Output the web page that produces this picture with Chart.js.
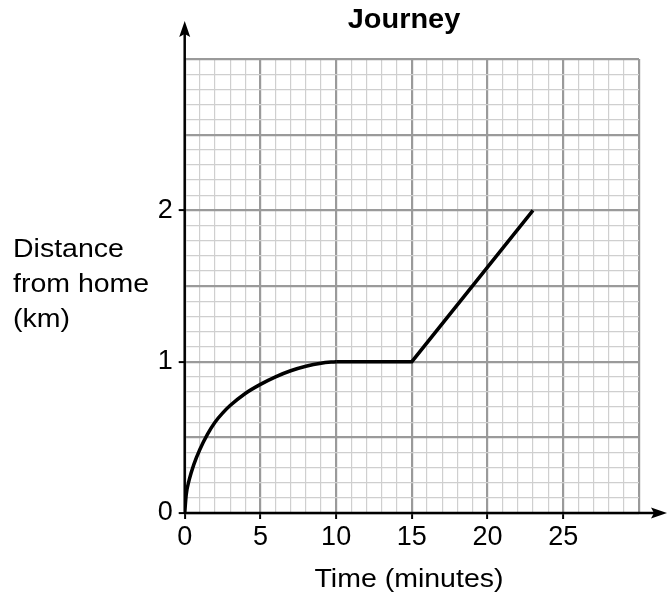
<!DOCTYPE html>
<html>
<head>
<meta charset="utf-8">
<script src="https://cdn.jsdelivr.net/npm/chart.js@4/dist/chart.umd.min.js"></script>
<style>
  html, body { margin: 0; padding: 0; background: #fff; }
  #wrap { width: 668px; height: 598px; }
</style>
</head>
<body>
<div id="wrap"><canvas id="c" width="668" height="598"></canvas></div>
<script>
// ---- Data ----
const chartTitle = "Journey";
const xAxisTitle = "Time (minutes)";
const yAxisTitleLines = ["Distance", "from home", "(km)"];
const xLabelValues = [0, 5, 10, 15, 20, 25];
const yLabelValues = [0, 1, 2];
// curved part of the journey
const curveTimes = [0, 0.1, 0.3, 0.6, 1, 1.5, 2, 2.5, 3, 4, 5, 6, 7, 8, 9, 10];
const curveDistances = [0, 0.12, 0.22, 0.32, 0.42, 0.52, 0.6, 0.66, 0.71, 0.79, 0.85, 0.9, 0.94, 0.97, 0.99, 1];
// straight parts
const lineTimes = [10, 15, 23];
const lineDistances = [1, 1, 2];

const curvePts = curveTimes.map((t, i) => ({ x: t, y: curveDistances[i] }));
const linePts = lineTimes.map((t, i) => ({ x: t, y: lineDistances[i] }));

const FONT = "'Liberation Sans', Arial, Helvetica, sans-serif";
const MAJOR = '#9a9a9a', MINOR = '#cfcfcf';

const overlay = {
  id: 'overlay',
  afterDatasetsDraw(chart) {
    const ctx = chart.ctx;
    const xs = chart.scales.x, ys = chart.scales.y;
    const x0 = xs.getPixelForValue(0), y0 = ys.getPixelForValue(0);
    ctx.save();
    ctx.strokeStyle = '#000'; ctx.fillStyle = '#000'; ctx.lineWidth = 2.5;
    // y axis with arrow
    ctx.beginPath(); ctx.moveTo(x0, y0); ctx.lineTo(x0, 32); ctx.stroke();
    ctx.beginPath(); ctx.moveTo(x0, 21); ctx.lineTo(x0 - 5.5, 37); ctx.lineTo(x0, 34); ctx.lineTo(x0 + 5.5, 37); ctx.closePath(); ctx.fill();
    // x axis with arrow
    ctx.beginPath(); ctx.moveTo(x0, y0); ctx.lineTo(656, y0); ctx.stroke();
    ctx.beginPath(); ctx.moveTo(667, y0); ctx.lineTo(651, y0 - 5.5); ctx.lineTo(654, y0); ctx.lineTo(651, y0 + 5.5); ctx.closePath(); ctx.fill();
    ctx.restore();
  },
  afterDraw(chart) {
    const ctx = chart.ctx;
    ctx.save();
    ctx.fillStyle = '#000';
    ctx.textBaseline = 'alphabetic';
    // title
    ctx.save();
    ctx.font = "bold 27px " + FONT;
    ctx.textAlign = 'center';
    ctx.translate(404, 28); ctx.scale(1.07, 1);
    ctx.fillText(chartTitle, 0, 0);
    ctx.restore();
    // x title
    ctx.save();
    ctx.font = "25px " + FONT;
    ctx.textAlign = 'center';
    ctx.translate(409, 587); ctx.scale(1.14, 1);
    ctx.fillText(xAxisTitle, 0, 0);
    ctx.restore();
    // y title
    const base = [257, 292, 327];
    yAxisTitleLines.forEach((t, i) => {
      ctx.save();
      ctx.font = "25px " + FONT;
      ctx.textAlign = 'left';
      ctx.translate(13, base[i]); ctx.scale(1.14, 1);
      ctx.fillText(t, 0, 0);
      ctx.restore();
    });
    ctx.restore();
  }
};

new Chart(document.getElementById('c'), {
  type: 'line',
  data: {
    datasets: [
      { data: curvePts, borderColor: '#000', borderWidth: 3.5, pointRadius: 0, cubicInterpolationMode: 'monotone', fill: false },
      { data: linePts, borderColor: '#000', borderWidth: 3.5, pointRadius: 0, tension: 0, fill: false }
    ]
  },
  options: {
    responsive: false,
    animation: false,
    devicePixelRatio: 1,
    layout: { padding: { left: 0, top: 59, right: 29, bottom: 0 } },
    plugins: { legend: { display: false }, tooltip: { enabled: false }, title: { display: false } },
    scales: {
      x: {
        type: 'linear', min: 0, max: 30,
        afterFit(s) { s.height = 85; },
        border: { display: false },
        grid: {
          color: c => (c.tick && Math.round(c.tick.value) % 5 === 0) ? MAJOR : MINOR,
          lineWidth: c => (c.tick && Math.round(c.tick.value) % 5 === 0) ? 2.2 : 1.2,
          tickColor: c => (c.tick && xLabelValues.includes(Math.round(c.tick.value))) ? '#000' : 'rgba(0,0,0,0)',
          tickLength: 6, tickWidth: 2
        },
        ticks: {
          stepSize: 1, maxTicksLimit: 100, autoSkip: false, maxRotation: 0, padding: 2,
          color: '#000', font: { family: FONT, size: 27 },
          callback: v => xLabelValues.includes(v) ? String(v) : ''
        }
      },
      y: {
        type: 'linear', min: 0, max: 3,
        afterFit(s) { s.width = 184.7; },
        border: { display: false },
        grid: {
          color: c => (c.index % 5 === 0) ? MAJOR : MINOR,
          lineWidth: c => (c.index % 5 === 0) ? 2.2 : 1.2,
          tickColor: c => (c.index % 10 === 0 && yLabelValues.includes(c.index / 10)) ? '#000' : 'rgba(0,0,0,0)',
          tickLength: 6, tickWidth: 2
        },
        ticks: {
          stepSize: 0.1, maxTicksLimit: 100, autoSkip: false, padding: 6,
          color: '#000', font: { family: FONT, size: 27 },
          callback: (v, i) => (i % 10 === 0 && yLabelValues.includes(i / 10)) ? String(i / 10) : ''
        }
      }
    }
  },
  plugins: [overlay]
});
</script>
</body>
</html>
